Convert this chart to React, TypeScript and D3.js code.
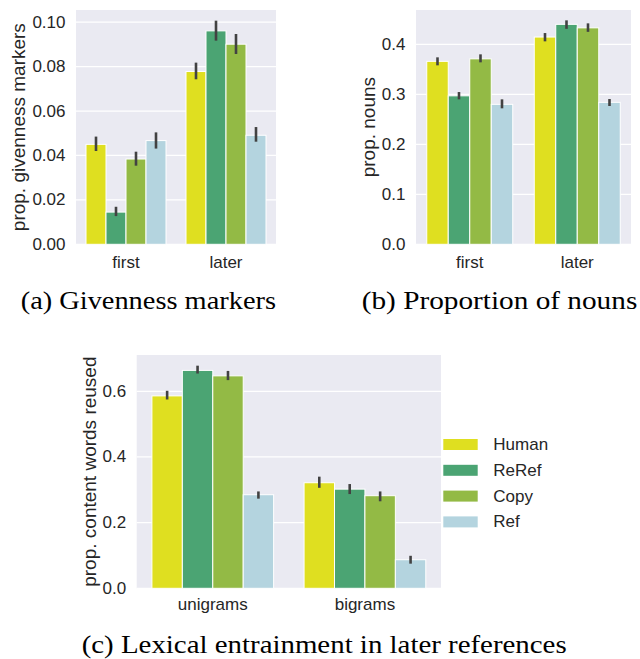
import React from "react";
import * as d3 from "d3";

const seriesNames = ["Human", "ReRef", "Copy", "Ref"];
const seriesColors = ["#dfdf20", "#4ba473", "#93ba45", "#b4d4df"];

// (a) Givenness markers
const givenCats = ["first", "later"];
const givenMean = [
  [0.045, 0.0778],
  [0.0145, 0.0961],
  [0.0384, 0.0901],
  [0.0467, 0.0491],
];
const givenLo = [
  [0.042, 0.0743],
  [0.0127, 0.0917],
  [0.0354, 0.0857],
  [0.0431, 0.0462],
];
const givenHi = [
  [0.0485, 0.0818],
  [0.0169, 0.1007],
  [0.0417, 0.0947],
  [0.0504, 0.0528],
];
const givenTicks = [0, 0.02, 0.04, 0.06, 0.08, 0.1];

// (b) Proportion of nouns
const nounCats = ["first", "later"];
const nounMean = [
  [0.366, 0.4146],
  [0.297, 0.44],
  [0.371, 0.433],
  [0.28, 0.284],
];
const nounLo = [
  [0.358, 0.406],
  [0.29, 0.431],
  [0.364, 0.425],
  [0.272, 0.2766],
];
const nounHi = [
  [0.374, 0.4226],
  [0.3046, 0.448],
  [0.38, 0.442],
  [0.29, 0.2906],
];
const nounTicks = [0, 0.1, 0.2, 0.3, 0.4];

// (c) Lexical entrainment
const lexCats = ["unigrams", "bigrams"];
const lexMean = [
  [0.586, 0.3215],
  [0.6636, 0.302],
  [0.647, 0.282],
  [0.285, 0.087],
];
const lexLo = [
  [0.575, 0.306],
  [0.654, 0.287],
  [0.634, 0.265],
  [0.273, 0.075],
];
const lexHi = [
  [0.6015, 0.34],
  [0.678, 0.3175],
  [0.662, 0.295],
  [0.295, 0.099],
];
const lexTicks = [0, 0.2, 0.4, 0.6];

const SANS = "Liberation Sans, Arial, sans-serif";
const SERIF = "Liberation Serif, Times New Roman, serif";
const TEXT = "#262626";
const FS = 17;
const LFS = 19;

type PanelProps = {
  x0: number;
  x1: number;
  y0: number;
  y1: number;
  yMax: number;
  cats: string[];
  mean: number[][];
  lo: number[][];
  hi: number[][];
  ticks: number[];
  fmt: string;
  ylabel: string;
  ylabelX: number;
  xlabelDy: number;
};

function Panel(p: PanelProps) {
  const y = d3.scaleLinear().domain([0, p.yMax]).range([p.y1, p.y0]);
  const xb = d3
    .scaleBand<string>()
    .domain(p.cats)
    .range([p.x0, p.x1])
    .paddingInner(0.2)
    .paddingOuter(0.1);
  const xs = d3
    .scaleBand<string>()
    .domain(seriesNames)
    .range([0, xb.bandwidth()]);
  const f = d3.format(p.fmt);
  return (
    <g>
      <rect x={p.x0} y={p.y0} width={p.x1 - p.x0} height={p.y1 - p.y0} fill="#eaeaf2" />
      {p.ticks.map((t) => (
        <g key={t}>
          <line x1={p.x0} x2={p.x1} y1={y(t)} y2={y(t)} stroke="#ffffff" strokeWidth={1.3} />
          <text
            x={p.x0 - 10.5}
            y={y(t)}
            textAnchor="end"
            dominantBaseline="central"
            fontFamily={SANS}
            fontSize={FS}
            fill={TEXT}
          >
            {f(t)}
          </text>
        </g>
      ))}
      {seriesNames.map((s, si) =>
        p.cats.map((c, ci) => {
          const bx = (xb(c) as number) + (xs(s) as number);
          const bw = xs.bandwidth();
          const v = p.mean[si][ci];
          return (
            <rect
              key={s + c}
              x={bx}
              y={y(v)}
              width={bw}
              height={y(0) - y(v)}
              fill={seriesColors[si]}
              stroke="#ffffff"
              strokeWidth={1}
            />
          );
        })
      )}
      {seriesNames.map((s, si) =>
        p.cats.map((c, ci) => {
          const cx = (xb(c) as number) + (xs(s) as number) + xs.bandwidth() / 2;
          return (
            <line
              key={"e" + s + c}
              x1={cx}
              x2={cx}
              y1={y(p.lo[si][ci])}
              y2={y(p.hi[si][ci])}
              stroke="#424242"
              strokeWidth={2.6}
            />
          );
        })
      )}
      {p.cats.map((c) => (
        <text
          key={"xl" + c}
          x={(xb(c) as number) + xb.bandwidth() / 2}
          y={p.y1 + p.xlabelDy}
          textAnchor="middle"
          fontFamily={SANS}
          fontSize={FS}
          fill={TEXT}
        >
          {c}
        </text>
      ))}
      <text
        transform={`translate(${p.ylabelX},${(p.y0 + p.y1) / 2}) rotate(-90)`}
        textAnchor="middle"
        dominantBaseline="central"
        fontFamily={SANS}
        fontSize={LFS}
        fill={TEXT}
      >
        {p.ylabel}
      </text>
    </g>
  );
}

export default function App() {
  return (
    <div style={{ position: "absolute", left: 0, top: 0 }}>
      <svg width={640} height={659} style={{ display: "block", background: "#ffffff" }}>
        <Panel
          x0={76}
          x1={276}
          y0={10}
          y1={244.3}
          yMax={0.1055}
          cats={givenCats}
          mean={givenMean}
          lo={givenLo}
          hi={givenHi}
          ticks={givenTicks}
          fmt=".2f"
          ylabel="prop. givenness markers"
          ylabelX={18.5}
          xlabelDy={24}
        />
        <Panel
          x0={416}
          x1={631}
          y0={10}
          y1={244.3}
          yMax={0.4687}
          cats={nounCats}
          mean={nounMean}
          lo={nounLo}
          hi={nounHi}
          ticks={nounTicks}
          fmt=".1f"
          ylabel="prop. nouns"
          ylabelX={368.5}
          xlabelDy={24}
        />
        <Panel
          x0={136.7}
          x1={441}
          y0={355}
          y1={588.3}
          yMax={0.7105}
          cats={lexCats}
          mean={lexMean}
          lo={lexLo}
          hi={lexHi}
          ticks={lexTicks}
          fmt=".1f"
          ylabel="prop. content words reused"
          ylabelX={89}
          xlabelDy={21.5}
        />
        {seriesNames.map((s, i) => (
          <g key={"lg" + s}>
            <rect x={443.3} y={439 + i * 25.8} width={34.4} height={11} fill={seriesColors[i]} />
            <text
              x={493.3}
              y={444.5 + i * 25.8}
              dominantBaseline="central"
              fontFamily={SANS}
              fontSize={FS}
              fill={TEXT}
            >
              {s}
            </text>
          </g>
        ))}
        <text x={20.7} y={309} fontFamily={SERIF} fontSize={25.5} fill="#000" textLength={255.3} lengthAdjust="spacingAndGlyphs">
          (a) Givenness markers
        </text>
        <text x={361.7} y={309} fontFamily={SERIF} fontSize={25.5} fill="#000" textLength={275.6} lengthAdjust="spacingAndGlyphs">
          (b) Proportion of nouns
        </text>
        <text x={81.7} y={653} fontFamily={SERIF} fontSize={25.5} fill="#000" textLength={485} lengthAdjust="spacingAndGlyphs">
          (c) Lexical entrainment in later references
        </text>
      </svg>
    </div>
  );
}
